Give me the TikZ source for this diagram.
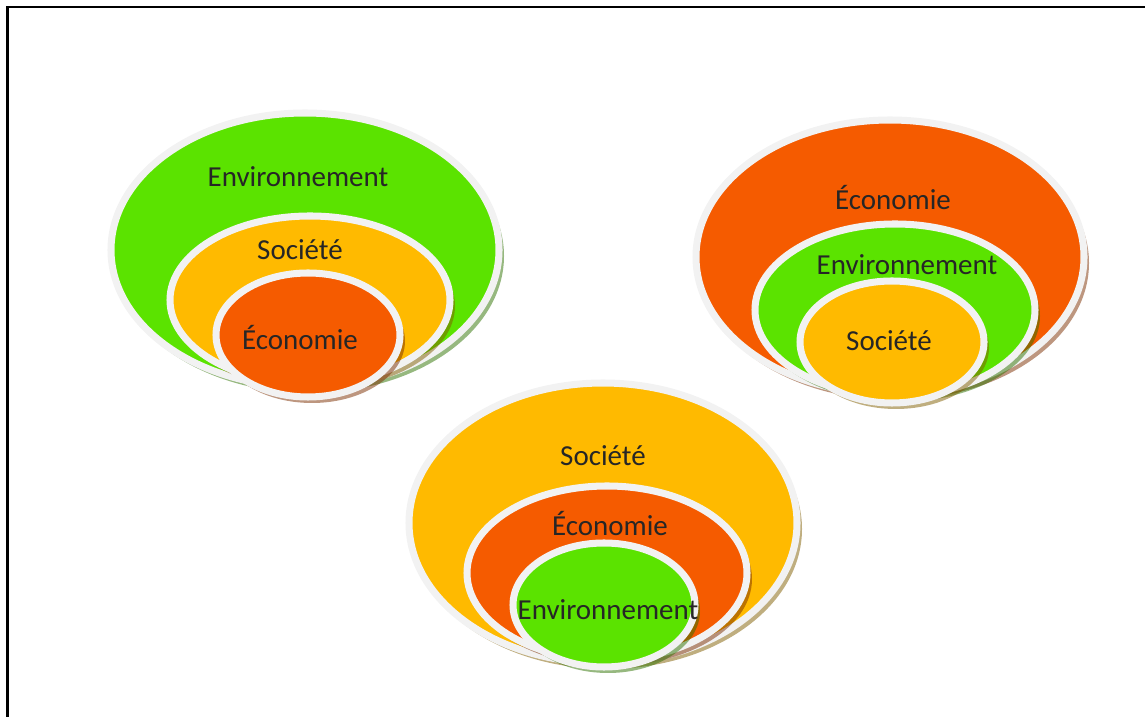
\documentclass[tikz,border=0pt]{standalone}
\usepackage{fontspec}
\setmainfont{Carlito}
\usepackage{tikz}

\definecolor{vert}{RGB}{91,227,0}
\definecolor{orange}{RGB}{245,91,0}
\definecolor{jaune}{RGB}{255,186,0}
\definecolor{bord}{RGB}{242,242,242}
\definecolor{texte}{RGB}{38,38,38}

\begin{document}
\begin{tikzpicture}[x=0.025cm,y=0.025cm,
		rim/.style={draw=bord,line width=5pt},
		ombre/.style={fill=#1!50!black,opacity=0.5},
		mot/.style={text=texte,font=\fontsize{20.6}{24}\selectfont,inner sep=0pt}]
	\useasboundingbox (0,0) rectangle (1145,717);
	\clip (0,0) rectangle (1145,717);
	
	% cadre
	\draw[line width=1.8pt] (7.5,-10) -- (7.5,710) -- (1160,710);
	
	% environnement > societe > economie
	\fill[ombre=vert] (309,461) ellipse (195 and 137);
	\draw[rim,fill=vert] (305,467) ellipse (194 and 137);
	\fill[ombre=jaune] (314,411) ellipse (141 and 84);
	\draw[rim,fill=jaune] (310,417) ellipse (140 and 84);
	\fill[ombre=orange] (312,376) ellipse (93 and 62);
	\draw[rim,fill=orange] (308,382) ellipse (92 and 62);
	
	\node[mot] (env1) at (298,540) {Environnement};
	\node[mot] (soc1) at (300,467) {Société};
	\node[mot] (eco1) at (300,379) {Économie};
	
	% economie > environnement > societe
	\fill[ombre=orange] (894,454) ellipse (195 and 137);
	\draw[rim,fill=orange] (890,460) ellipse (194 and 137);
	\fill[ombre=vert] (899,401) ellipse (141 and 86);
	\draw[rim,fill=vert] (895,407) ellipse (140 and 86);
	\fill[ombre=jaune] (896,369) ellipse (93 and 61);
	\draw[rim,fill=jaune] (892,375) ellipse (92 and 61);
	
	\node[mot] (eco2) at (893,519) {Économie};
	\node[mot] (env2) at (907,452) {Environnement};
	\node[mot] (soc2) at (889,376) {Société};
	
	% societe > economie > environnement
	\fill[ombre=jaune] (607,188) ellipse (195 and 140);
	\draw[rim,fill=jaune] (603,194) ellipse (194 and 140);
	\fill[ombre=orange] (611,138) ellipse (141 and 87);
	\draw[rim,fill=orange] (607,144) ellipse (140 and 87);
	\fill[ombre=vert] (608,106) ellipse (92 and 62);
	\draw[rim,fill=vert] (604,112) ellipse (91 and 62);
	
	\node[mot] (soc3) at (603,261) {Société};
	\node[mot] (eco3) at (610,193) {Économie};
	\node[mot] (env3) at (608,107) {Environnement};
	
\end{tikzpicture}
\end{document}
